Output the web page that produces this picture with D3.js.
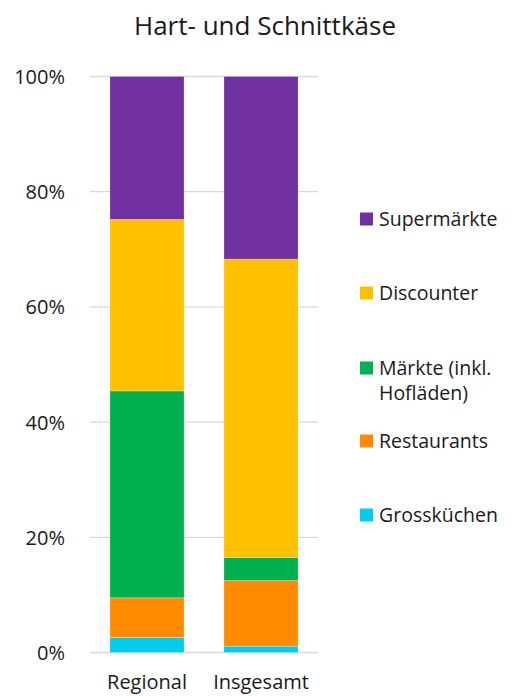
<!DOCTYPE html>
<html><head><meta charset="utf-8">
<script src="https://cdn.jsdelivr.net/npm/d3@7"></script>
<style>body{margin:0;background:#fff}svg{display:block}text{font-family:"Open Sans",sans-serif;fill:#1a1a1a}</style>
</head><body>
<script>
const categories = ["Regional", "Insgesamt"];
const seriesNames = ["Grossküchen", "Restaurants", "Märkte (inkl. Hofläden)", "Discounter", "Supermärkte"];
const grosskuechen = [2.6, 1.1];
const restaurants = [6.9, 11.4];
const maerkte = [35.9, 4.0];
const discounter = [29.8, 51.8];
const supermaerkte = [24.8, 31.7];
const colors = ["#00CCEE", "#FF8C00", "#00B050", "#FFC000", "#7030A0"];
const yTicks = [0, 20, 40, 60, 80, 100];
const title = "Hart- und Schnittkäse";

const seriesVals = [grosskuechen, restaurants, maerkte, discounter, supermaerkte];
const rows = categories.map((c, i) => {
  const r = {cat: c};
  seriesNames.forEach((s, j) => r[s] = seriesVals[j][i]);
  return r;
});
const stacked = d3.stack().keys(seriesNames)(rows);

const W = 515, H = 696;
const svg = d3.select("body").append("svg").attr("width", W).attr("height", H);
const x = d3.scaleBand().domain(categories).range([90, 318]).paddingInner(0.35).paddingOuter(0.175);
const y = d3.scaleLinear().domain([0, 100]).range([652.5, 76.5]);

// gridlines
svg.append("g").selectAll("line").data(yTicks).join("line")
  .attr("x1", 90).attr("x2", 318)
  .attr("y1", d => y(d)).attr("y2", d => y(d))
  .attr("stroke", "#d9d9d9").attr("stroke-width", 1.3);

// y axis labels
const yAxis = d3.axisLeft(y).tickValues(yTicks).tickFormat(d => d + "%").tickSize(0).tickPadding(0);
const ga = svg.append("g").attr("transform", "translate(65,0)").call(yAxis);
ga.select(".domain").remove();
ga.selectAll("text").style("font-size", "20px").style("font-family", "'Open Sans',sans-serif").attr("fill", "#1a1a1a").attr("dy", "0.35em");

// bars
svg.append("g").selectAll("g").data(stacked).join("g")
  .attr("fill", (d, i) => colors[i])
  .selectAll("rect").data(d => d).join("rect")
  .attr("x", d => x(d.data.cat))
  .attr("width", x.bandwidth())
  .attr("y", d => y(d[1]))
  .attr("height", d => y(d[0]) - y(d[1]))
  .attr("stroke", "rgba(255,255,255,0.3)").attr("stroke-width", 0.75);

// x axis labels
const xAxis = d3.axisBottom(x).tickSize(0).tickPadding(0);
const gx = svg.append("g").attr("transform", "translate(0,689)").call(xAxis);
gx.select(".domain").remove();
gx.selectAll("text").style("font-size", "20px").style("font-family", "'Open Sans',sans-serif").attr("fill", "#1a1a1a").attr("dy", "0");

// title
svg.append("text").attr("x", 265).attr("y", 35).attr("text-anchor", "middle")
  .style("font-size", "26px").text(title);

// legend (top to bottom: reverse order)
const legendItems = [
  {i: 4, lines: ["Supermärkte"], y: 219},
  {i: 3, lines: ["Discounter"], y: 293},
  {i: 2, lines: ["Märkte (inkl.", "Hofläden)"], y: 368},
  {i: 1, lines: ["Restaurants"], y: 441},
  {i: 0, lines: ["Grossküchen"], y: 515}
];
const lg = svg.append("g");
legendItems.forEach(it => {
  lg.append("rect").attr("x", 360).attr("y", it.y - 6.5).attr("width", 13).attr("height", 13).attr("fill", colors[it.i]);
  it.lines.forEach((l, k) => {
    lg.append("text").attr("x", 379).attr("y", it.y + k * 25).attr("dy", "0.35em")
      .style("font-size", "19.5px").text(l);
  });
});
</script>
</body></html>
